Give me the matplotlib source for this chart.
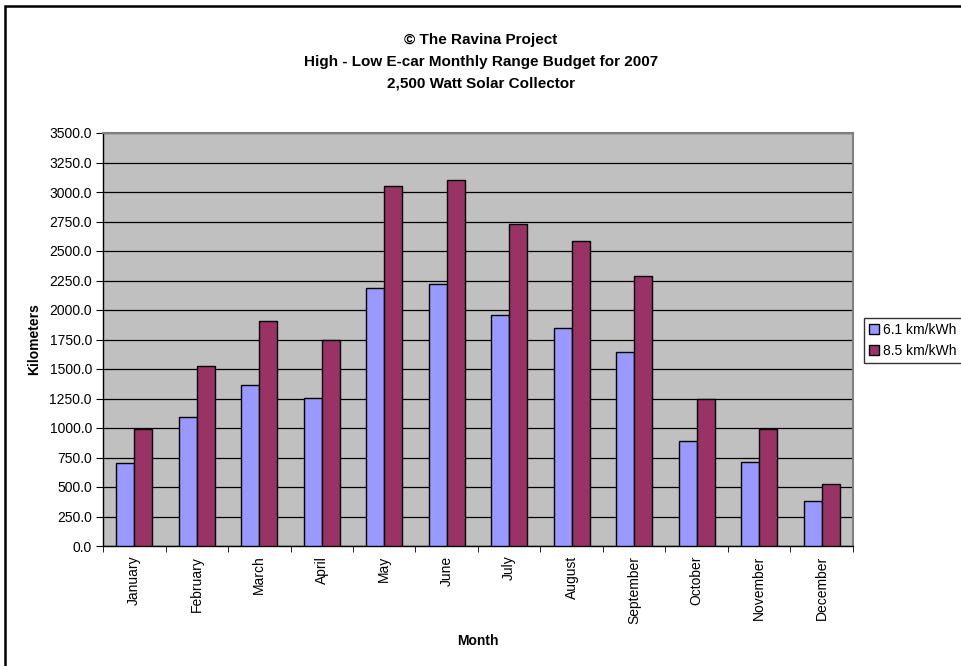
import matplotlib
matplotlib.use("Agg")
import matplotlib.pyplot as plt
import numpy as np
from matplotlib.patches import Rectangle

months = ["January", "February", "March", "April", "May", "June", "July",
          "August", "September", "October", "November", "December"]
low_61 = [707, 1092, 1367, 1253, 2187, 2221, 1961, 1851, 1644, 891, 713, 382]
high_85 = [988, 1522, 1904, 1743, 3048, 3098, 2733, 2581, 2292, 1242, 993, 529]
series_names = ["6.1 km/kWh", "8.5 km/kWh"]
yticks = np.arange(0, 3501, 250)

plt.rcParams['font.family'] = ['Liberation Sans', 'DejaVu Sans']

W, H = 962, 666
fig = plt.figure(figsize=(W / 100, H / 100), dpi=100)
fig.patch.set_facecolor("white")

# outer border (right and bottom sides run off the image, as in the reference)
fig.patches.append(Rectangle((5 / W, -20 / H), (985 - 5) / W, (660 + 20) / H,
                             transform=fig.transFigure, fill=False,
                             edgecolor="black", linewidth=1.8))

left, right, top, bottom = 103, 853, 133, 546
ax = fig.add_axes([left / W, 1 - bottom / H, (right - left) / W, (bottom - top) / H])
ax.set_facecolor("#C0C0C0")

x = np.arange(len(months))
bw = 1 / 3.5
ax.bar(x - bw / 2, low_61, width=bw, color="#9999FF", edgecolor="black",
       linewidth=1, label=series_names[0], zorder=3)
ax.bar(x + bw / 2, high_85, width=bw, color="#993366", edgecolor="black",
       linewidth=1, label=series_names[1], zorder=3)

ax.set_xlim(-0.5, len(months) - 0.5)
ax.set_ylim(0, 3500)
ax.set_yticks(yticks)
ax.set_yticklabels([f"{v:.1f}" for v in yticks], fontsize=10)
ax.yaxis.grid(True, color="black", linewidth=0.9, zorder=1)
ax.set_axisbelow(True)

ax.set_xticks(x)
ax.set_xticklabels(months, rotation=90, fontsize=10)
ax.tick_params(axis="x", length=0, pad=7)
ax.set_xticks(np.arange(-0.5, len(months)), minor=True)
ax.tick_params(axis="x", which="minor", length=4, direction="out", color="black")
ax.tick_params(axis="y", length=5, direction="out", color="black", pad=3)

for s in ["top", "right"]:
    ax.spines[s].set_color("#808080")
    ax.spines[s].set_linewidth(1.5)
for s in ["left", "bottom"]:
    ax.spines[s].set_color("black")
    ax.spines[s].set_linewidth(1)

ax.set_ylabel("Kilometers", fontsize=10, fontweight="bold")
ax.yaxis.set_label_coords((34 - left) / (right - left), 0.5)
ax.set_xlabel("Month", fontsize=10, fontweight="bold")
ax.xaxis.set_label_coords(0.5, (bottom - 641) / (bottom - top))
ax.xaxis.label.set_va("center")
ax.yaxis.label.set_va("center")

fig.text(0.5, 1 - 40 / H, "© The Ravina Project", ha="center", va="center",
         fontsize=11, fontweight="bold")
fig.text(0.5, 1 - 62 / H, "High - Low E-car Monthly Range Budget for 2007",
         ha="center", va="center", fontsize=11, fontweight="bold")
fig.text(0.5, 1 - 84 / H, "2,500 Watt Solar Collector", ha="center", va="center",
         fontsize=11, fontweight="bold")

leg_w = 120
leg = fig.legend(loc="upper left",
                 bbox_to_anchor=(864 / W, 1 - 361 / H, leg_w / W, 43 / H),
                 mode="expand", fontsize=10, frameon=True, fancybox=False,
                 edgecolor="black", handlelength=0.7, handleheight=0.7,
                 handletextpad=0.3, borderpad=0.35, labelspacing=0.5,
                 borderaxespad=0)
leg.get_frame().set_linewidth(1)
leg.set_zorder(10)

fig.savefig("out.png", dpi=100)
